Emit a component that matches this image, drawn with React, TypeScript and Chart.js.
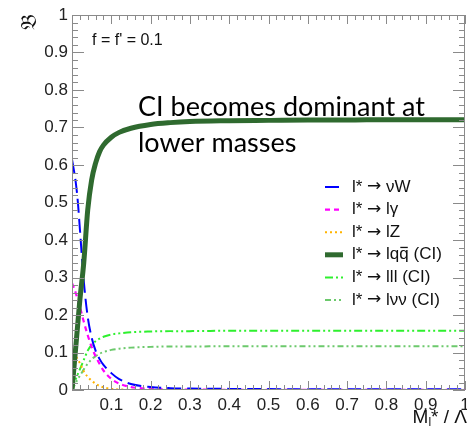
import React, { useEffect, useRef } from 'react';
import { Chart, registerables } from 'chart.js';

Chart.register(...registerables);

// ---- data ----
const massRatio = [0, 0.005, 0.01, 0.015, 0.02, 0.03, 0.04, 0.05, 0.06, 0.07, 0.08, 0.1, 0.12, 0.15, 0.2, 0.25, 0.3, 0.4, 0.5, 0.6, 0.7, 0.8, 0.9, 1.0];
const brNuW = [0.615, 0.585, 0.55, 0.5, 0.43, 0.29, 0.195, 0.14, 0.105, 0.083, 0.067, 0.045, 0.029, 0.016, 0.008, 0.005, 0.004, 0.003, 0.0025, 0.002, 0.002, 0.002, 0.002, 0.002];
const brLGamma = [0.285, 0.272, 0.257, 0.24, 0.222, 0.182, 0.146, 0.115, 0.09, 0.07, 0.052, 0.03, 0.017, 0.008, 0.003, 0.0015, 0.001, 0.0006, 0.0005, 0.0004, 0.0004, 0.0004, 0.0004, 0.0004];
const brLZ = [0.112, 0.1, 0.09, 0.081, 0.072, 0.05, 0.035, 0.025, 0.017, 0.011, 0.007, 0.003, 0.0015, 0.0005, 0.0002, 0.0001, 0.0001, 0.0001, 0.0001, 0.0001, 0.0001, 0.0001, 0.0001, 0.0001];
const brLQQ = [0, 0.06, 0.12, 0.18, 0.24, 0.34, 0.48, 0.56, 0.605, 0.635, 0.653, 0.674, 0.687, 0.698, 0.708, 0.713, 0.716, 0.718, 0.719, 0.72, 0.72, 0.721, 0.721, 0.721];
const brLLL = [0, 0.015, 0.03, 0.043, 0.055, 0.08, 0.105, 0.12, 0.13, 0.137, 0.142, 0.148, 0.151, 0.154, 0.156, 0.157, 0.157, 0.158, 0.158, 0.158, 0.158, 0.158, 0.158, 0.158];
const brLNuNu = [0, 0.01, 0.02, 0.03, 0.038, 0.055, 0.07, 0.082, 0.09, 0.097, 0.101, 0.107, 0.11, 0.113, 0.115, 0.116, 0.116, 0.117, 0.117, 0.117, 0.117, 0.117, 0.117, 0.117];

const seriesLabels = ['l* \u2192 \u03bdW', 'l* \u2192 l\u03b3', 'l* \u2192 lZ', 'l* \u2192 lqq\u0305 (CI)', 'l* \u2192 lll (CI)', 'l* \u2192 l\u03bd\u03bd (CI)'];
const seriesValues = [brNuW, brLGamma, brLZ, brLQQ, brLLL, brLNuNu];
const seriesColors = ['#0000ff', '#ff00ff', '#ffb400', '#2f6a2f', '#2ef02e', '#6cc96c'];
const seriesDashes: number[][] = [[14, 6], [5, 4], [2, 3], [], [8, 3, 2, 3, 2, 3], [6, 3, 2, 3, 2, 3]];
const seriesWidths = [2, 2.2, 2, 5, 2, 2];

const annotationText = 'f = f\' = 0.1';
const calloutLines = ['CI becomes dominant at', 'lower masses'];
const yTitle = '\ud835\udd05';

const AXIS = '#8a8a8a';
const SANS = '"Liberation Sans", Arial, Helvetica, sans-serif';

// draws text, using DejaVu Sans for the arrow glyph and drawing an overline for U+0305
function drawRich(ctx: CanvasRenderingContext2D, text: string, x: number, y: number, size: number) {
  let cx = x;
  const parts = text.split('\u2192');
  parts.forEach((part, idx) => {
    if (idx > 0) {
      ctx.font = `${size}px "DejaVu Sans", sans-serif`;
      ctx.fillText('\u2192', cx, y);
      cx += ctx.measureText('\u2192').width;
    }
    ctx.font = `${size}px ${SANS}`;
    const k = part.indexOf('\u0305');
    if (k > 0) {
      const pre = part.slice(0, k - 1);
      const ch = part.slice(k - 1, k);
      const post = part.slice(k + 1);
      ctx.fillText(pre, cx, y);
      cx += ctx.measureText(pre).width;
      ctx.fillText(ch, cx, y);
      const w2 = ctx.measureText(ch).width;
      ctx.fillRect(cx + 1, y - 8, w2 - 2, 1.3);
      cx += w2;
      ctx.fillText(post, cx, y);
      cx += ctx.measureText(post).width;
    } else {
      ctx.fillText(part, cx, y);
      cx += ctx.measureText(part).width;
    }
  });
}

const framePlugin = {
  id: 'rootFrame',
  afterDraw(chart: any) {
    const { ctx, chartArea } = chart;
    const { left, right, top, bottom } = chartArea;
    const xs = chart.scales.x;
    const ys = chart.scales.y;
    ctx.save();
    ctx.strokeStyle = AXIS;
    ctx.lineWidth = 1;
    ctx.beginPath();
    ctx.rect(left + 0.5, top + 0.5, right - left - 1, bottom - top - 1);
    ctx.stroke();
    ctx.beginPath();
    for (let i = 0; i <= 50; i++) {
      const px = Math.round(xs.getPixelForValue(i * 0.02)) + 0.5;
      const len = i % 5 === 0 ? 9 : 5;
      ctx.moveTo(px, bottom);
      ctx.lineTo(px, bottom - len);
      ctx.moveTo(px, top);
      ctx.lineTo(px, top + len);
      const py = Math.round(ys.getPixelForValue(i * 0.02)) + 0.5;
      const lenY = i % 5 === 0 ? 12 : 6;
      ctx.moveTo(left, py);
      ctx.lineTo(left + lenY, py);
      ctx.moveTo(right, py);
      ctx.lineTo(right - lenY, py);
    }
    ctx.stroke();

    // legend
    const lx0 = 325, lx1 = 343, tx = 352, ly0 = 187, dy = 22.6;
    ctx.textBaseline = 'middle';
    ctx.textAlign = 'left';
    chart.data.datasets.forEach((ds: any, i: number) => {
      const yy = ly0 + i * dy;
      ctx.save();
      ctx.strokeStyle = ds.borderColor;
      ctx.lineWidth = ds.borderWidth;
      ctx.setLineDash(ds.borderDash || []);
      ctx.beginPath();
      ctx.moveTo(lx0, yy);
      ctx.lineTo(lx1, yy);
      ctx.stroke();
      ctx.restore();
      ctx.fillStyle = '#111';
      drawRich(ctx, ds.label, tx, yy, 17);
    });

    // annotation
    ctx.textBaseline = 'alphabetic';
    ctx.fillStyle = '#111';
    ctx.font = `16px ${SANS}`;
    ctx.fillText(annotationText, 92, 45);

    // callout text
    ctx.font = '24px Lato, "Open Sans", sans-serif';
    const w = ctx.measureText(calloutLines[0]).width;
    const size = 24 * 287 / w;
    ctx.font = `${size.toFixed(2)}px Lato, "Open Sans", sans-serif`;
    ctx.fillStyle = '#000';
    ctx.fillText(calloutLines[0], 138, 116);
    ctx.fillText(calloutLines[1], 138, 152);

    // x title: M_l* / Λ
    ctx.fillStyle = '#111';
    ctx.textAlign = 'left';
    const partA = 'M';
    const partC = '* / \u039b';
    ctx.font = `12px ${SANS}`;
    const wSub = ctx.measureText('l').width;
    ctx.font = `19px ${SANS}`;
    const wA = ctx.measureText(partA).width;
    const wC = ctx.measureText(partC).width;
    const xEnd = 467;
    const xStart = xEnd - wA - wSub - wC;
    const base = 423;
    ctx.fillText(partA, xStart, base);
    ctx.fillText(partC, xStart + wA + wSub, base);
    ctx.font = `12px ${SANS}`;
    ctx.fillText('l', xStart + wA, base + 3);

    // y title
    ctx.save();
    ctx.translate(30, 22);
    ctx.rotate(-Math.PI / 2);
    ctx.textAlign = 'center';
    ctx.textBaseline = 'middle';
    ctx.font = '22px "DejaVu Serif", "DejaVu Sans", serif';
    ctx.fillText(yTitle, 0, 0);
    ctx.restore();

    ctx.restore();
  },
};

const fmt = (v: number) => {
  const r = Math.round(v * 10) / 10;
  if (r === 0) return '0';
  if (r === 1) return '1';
  return r.toFixed(1);
};

export default function App() {
  const ref = useRef<HTMLCanvasElement>(null);
  useEffect(() => {
    document.body.style.margin = '0';
    const canvas = ref.current!;
    const datasets = seriesLabels.map((label, i) => ({
      label,
      data: massRatio.map((m, j) => ({ x: m, y: seriesValues[i][j] })),
      borderColor: seriesColors[i],
      backgroundColor: seriesColors[i],
      borderWidth: seriesWidths[i],
      borderDash: seriesDashes[i],
      pointRadius: 0,
      fill: false,
      cubicInterpolationMode: 'monotone' as const,
      order: i === 3 ? 0 : i + 1,
    }));
    const chart = new Chart(canvas, {
      type: 'line',
      data: { datasets },
      options: {
        animation: false,
        responsive: false,
        devicePixelRatio: 1,
        layout: { padding: { top: 15, right: 2, left: 0, bottom: 0 } },
        plugins: { legend: { display: false }, tooltip: { enabled: false } },
        scales: {
          x: {
            type: 'linear',
            min: 0,
            max: 1,
            grid: { display: false, drawTicks: false },
            border: { display: false },
            ticks: {
              stepSize: 0.1,
              padding: 5,
              color: '#222',
              maxRotation: 0,
              autoSkip: false,
              font: { family: SANS, size: 17 },
              callback: (v: any) => (Math.abs(Number(v)) < 1e-9 ? '' : fmt(Number(v))),
            },
            afterFit: (s: any) => {
              s.height = 44;
              s.paddingLeft = 0;
              s.paddingRight = 0;
            },
          },
          y: {
            type: 'linear',
            min: 0,
            max: 1,
            grid: { display: false, drawTicks: false },
            border: { display: false },
            ticks: {
              stepSize: 0.1,
              padding: 4,
              color: '#222',
              autoSkip: false,
              font: { family: SANS, size: 17 },
              callback: (v: any) => fmt(Number(v)),
            },
            afterFit: (s: any) => {
              s.width = 72;
              s.paddingTop = 0;
              s.paddingBottom = 0;
            },
          },
        },
      },
      plugins: [framePlugin],
    });
    return () => chart.destroy();
  }, []);
  return (
    <canvas
      ref={ref}
      width={467}
      height={434}
      style={{ position: 'absolute', left: 0, top: 0, width: 467, height: 434 }}
    />
  );
}
